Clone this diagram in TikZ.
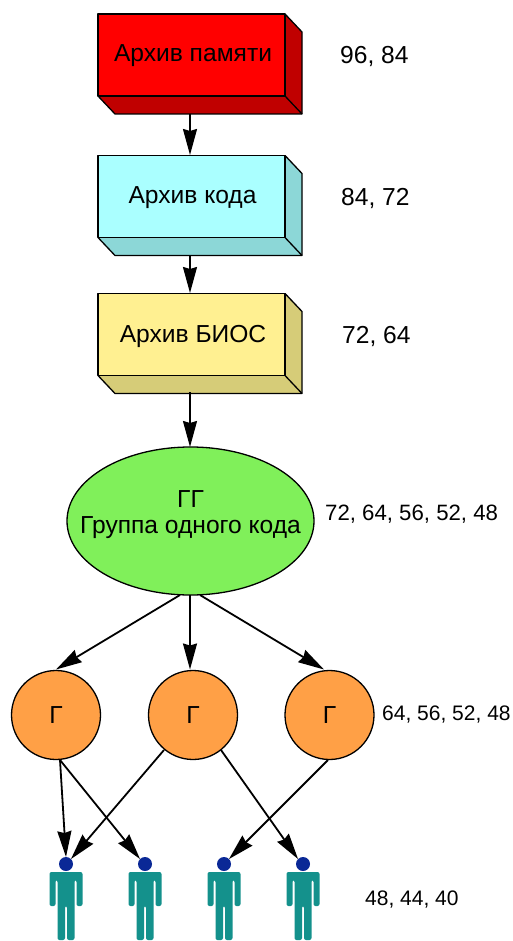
\documentclass[tikz,border=0pt]{standalone}
\usepackage{fontspec}
\setmainfont{Liberation Sans}
\usetikzlibrary{shapes.geometric,arrows.meta,calc}
\definecolor{redF}{RGB}{255,0,0}\definecolor{redS}{RGB}{192,0,0}
\definecolor{cyanF}{RGB}{170,255,255}\definecolor{cyanS}{RGB}{140,215,215}
\definecolor{yelF}{RGB}{255,240,145}\definecolor{yelS}{RGB}{214,204,120}
\definecolor{greenF}{RGB}{128,240,90}\definecolor{orangeF}{RGB}{255,160,70}
\definecolor{teal1}{RGB}{20,145,140}\definecolor{headB}{RGB}{10,40,150}
\tikzset{
 x=1pt,y=-1pt,
 every node/.style={font=\fontsize{24.6}{26}\selectfont,text=black},
 front/.style={minimum width=187pt,minimum height=82pt,inner sep=0pt,outer sep=0pt},
 face/.style={draw=black,line width=1.3pt,line join=round},
 link/.style={draw=black,line width=1.8pt,-{Stealth[length=26pt,width=14pt,inset=2pt]}},
 numlabel/.style={anchor=west,inner sep=0pt},
 gnode/.style={circle,draw=black,line width=1.3pt,fill=orangeF,minimum size=89pt,inner sep=0pt,outer sep=0pt},
 headn/.style={circle,fill=headB,minimum size=14pt,inner sep=0pt,outer sep=0pt},
 person/.pic={
  \fill[teal1,rounded corners=2pt] (-16.5,8)--(16.5,8)--(16.5,42)--(10.5,42)--(10.5,16)--(8.5,16)--(8.5,76)--(1,76)--(1,42)--(-1,42)--(-1,76)--(-8.5,76)--(-8.5,16)--(-10.5,16)--(-10.5,42)--(-16.5,42)--cycle;
 }
}
\newcommand{\boxsides}[3]{%
 \fill[#2] (#1.north east) -- ++(17,18) -- ++(0,82) -- ++(-187,0) -- (#1.south west) -- cycle;
 \draw[face] (#1.north east) -- ++(17,18) -- ++(0,82) -- ++(-187,0) -- (#1.south west);
 \draw[face] (#1.south east) -- ++(17,18);
 \draw[face,fill=#3] (#1.south west) rectangle (#1.north east);
}
\begin{document}
\begin{tikzpicture}
\useasboundingbox (0,0) rectangle (512,941);
\fill[white] (0,0) rectangle (512,941);
% boxes
\node[front] (b1) at (191.5,55) {};
\boxsides{b1}{redS}{redF}
\node[inner sep=0pt] (l1) at (193,56) {Архив памяти};
\node[front] (b2) at (191.5,196.5) {};
\boxsides{b2}{cyanS}{cyanF}
\node[inner sep=0pt] (l2) at (192.5,198) {Архив кода};
\node[front] (b3) at (191.5,334.5) {};
\boxsides{b3}{yelS}{yelF}
\node[inner sep=0pt] (l3) at (193,336) {Архив БИОС};
% ellipse
\node[ellipse,draw=black,line width=1.3pt,fill=greenF,minimum width=247pt,minimum height=148pt,inner sep=0pt,outer sep=0pt] (gg) at (190.5,521) {};
\node[inner sep=0pt,align=center] (ggl) at (190.5,514.5) {ГГ\\Группа одного кода};
% circles
\node[gnode] (g1) at (56,715) {Г};
\node[gnode] (g2) at (193,715) {Г};
\node[gnode] (g3) at (329.5,715) {Г};
% persons
\path (66,864) pic {person};
\path (145,864) pic {person};
\path (224,864) pic {person};
\path (303,864) pic {person};
\node[headn] (h1) at (66,864) {};
\node[headn] (h2) at (145,864) {};
\node[headn] (h3) at (224,864) {};
\node[headn] (h4) at (303,864) {};
% links
\coordinate (b1o) at (190,114);\coordinate (b2i) at (190,155);
\coordinate (b2o) at (190,255);\coordinate (b3i) at (190,293);
\coordinate (b3o) at (190,392);\coordinate (ggi) at (190,447);
\coordinate (ggL) at (180,595);\coordinate (ggM) at (190,595);\coordinate (ggR) at (200,595);
\coordinate (g1t) at (56,669.5);\coordinate (g2t) at (190,669.5);\coordinate (g3t) at (324,669.5);
\coordinate (g1s) at (60,760);\coordinate (g2l) at (164,750);
\coordinate (g2r) at (221,750);\coordinate (g3l) at (328,760);
\draw[link] (b1o) -- (b2i);
\draw[link] (b2o) -- (b3i);
\draw[link] (b3o) -- (ggi);
\draw[link] (ggL) -- (g1t);
\draw[link] (ggM) -- (g2t);
\draw[link] (ggR) -- (g3t);
\draw[link] (g1s) -- (h1.north);
\draw[link] (g1s) -- (h2.north west);
\draw[link] (g2l) -- (h1.north east);
\draw[link] (g2r) -- (h4.north west);
\draw[link] (g3l) -- (h3.north east);
% labels
\node[numlabel] (t1) at (340,56) {96, 84};
\node[numlabel] (t2) at (341,198) {84, 72};
\node[numlabel] (t3) at (342,336) {72, 64};
\node[numlabel,font=\fontsize{22.2}{26}\selectfont] (t4) at (325,514) {72, 64, 56, 52, 48};
\node[numlabel,font=\fontsize{21}{25}\selectfont] (t5) at (382,715) {64, 56, 52, 48};
\node[numlabel,font=\fontsize{21}{25}\selectfont] (t6) at (365,899) {48, 44, 40};
\end{tikzpicture}
\end{document}
